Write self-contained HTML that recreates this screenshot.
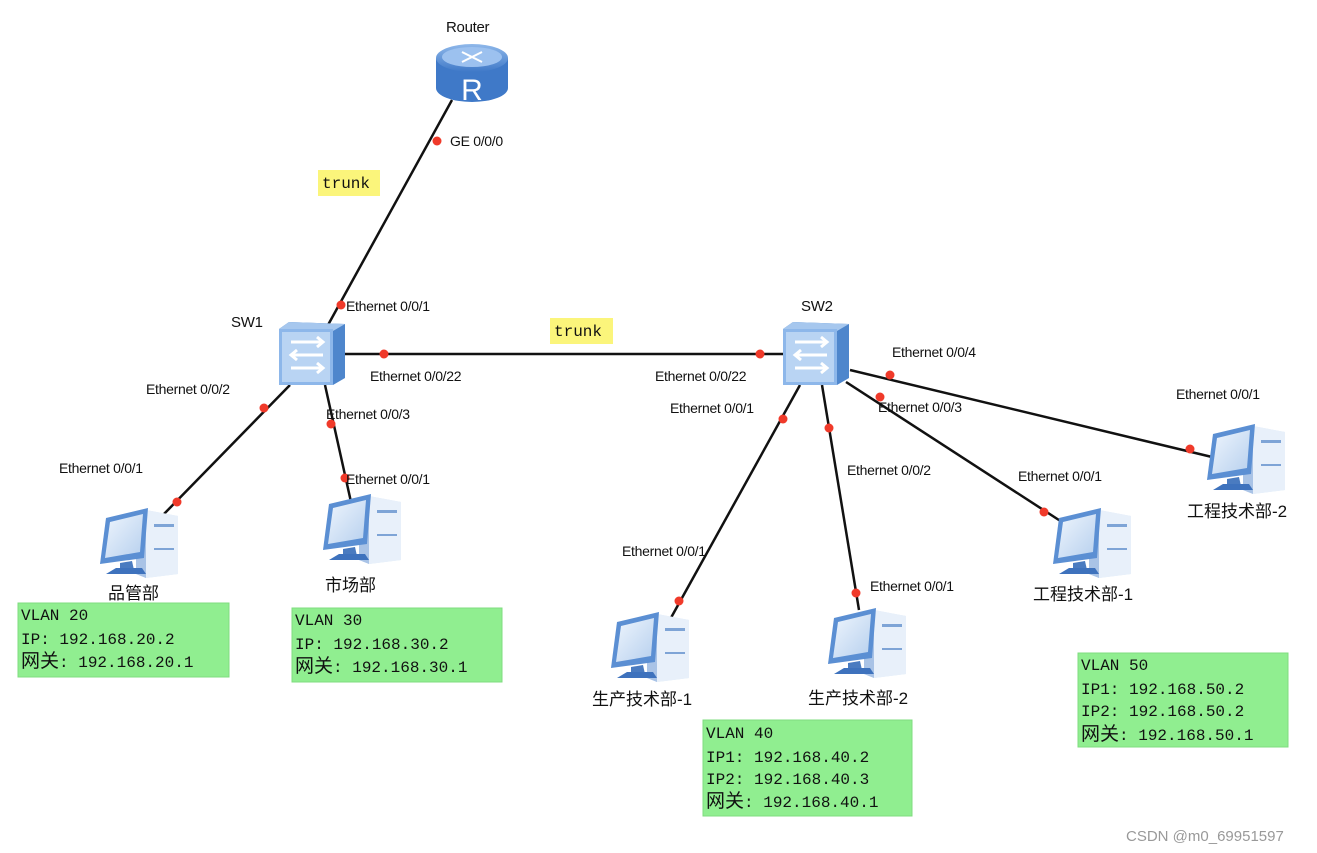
<!DOCTYPE html>
<html><head><meta charset="utf-8"><style>
html,body{margin:0;padding:0;background:#fff;}
svg{display:block;}
.l{font-family:"Liberation Sans",Arial,sans-serif;font-size:14px;fill:#111;letter-spacing:-0.3px;}
.c{font-family:"Liberation Sans","Noto Sans CJK SC",sans-serif;font-size:17px;fill:#111;}
.m{font-family:"Liberation Mono","Noto Sans CJK SC",monospace;font-size:16px;fill:#111;}
</style></head><body>
<svg width="1317" height="853" viewBox="0 0 1317 853" xmlns="http://www.w3.org/2000/svg">
<defs>
<linearGradient id="scr" x1="0" y1="0" x2="1" y2="1"><stop offset="0" stop-color="#eef5fd"/><stop offset="1" stop-color="#b7d0ee"/></linearGradient>
<linearGradient id="rt" x1="0" y1="0" x2="0" y2="1"><stop offset="0" stop-color="#8fb8ea"/><stop offset="1" stop-color="#3f79c8"/></linearGradient>
<g id="pc">
  <polygon points="40,6 50,2 82,8 82,66 50,70 40,66" fill="#dbe8f7"/>
  <polygon points="50,2 82,8 82,66 50,70" fill="#e8f0fa"/>
  <polygon points="40,6 50,2 50,70 40,66" fill="#a9c3e6"/>
  <rect x="58" y="16" width="20" height="3" fill="#7ea4d6"/>
  <rect x="58" y="40" width="20" height="2" fill="#7ea4d6"/>
  <polygon points="10,10 52,0 48,50 4,56" fill="#5b8fd3"/>
  <polygon points="14,14 47,6 44,44 9,50" fill="url(#scr)"/>
  <polygon points="24,55 36,53 38,62 24,63" fill="#4a7bc0"/>
  <polygon points="10,66 20,60 46,60 50,66" fill="#3e72bd"/>
</g>
<g id="sw">
  <polygon points="0,7 10,0 66,2 66,56 54,63 0,60" fill="#4e86cc"/>
  <polygon points="0,7 10,0 66,2 54,9" fill="#a6c7ee"/>
  <rect x="0" y="7" width="54" height="56" fill="#8db7ea"/>
  <rect x="3" y="10" width="48" height="50" fill="#b9d4f3"/>
  <g stroke="#fff" stroke-width="3" fill="none">
   <path d="M12,20 H44 M38,15 L44,20 L38,25"/>
   <path d="M44,33 H12 M18,28 L12,33 L18,38"/>
   <path d="M12,46 H44 M38,41 L44,46 L38,51"/>
  </g>
</g>
</defs>

<!-- links -->
<g stroke="#111" stroke-width="2.5" fill="none">
<line x1="452" y1="100" x2="328" y2="325"/>
<line x1="345" y1="354" x2="783" y2="354"/>
<line x1="290" y1="385" x2="163" y2="515"/>
<line x1="325" y1="385" x2="351" y2="502"/>
<line x1="800" y1="385" x2="667" y2="625"/>
<line x1="822" y1="385" x2="859" y2="610"/>
<line x1="846" y1="382" x2="1062" y2="522"/>
<line x1="850" y1="370" x2="1212" y2="457"/>
</g>
<g fill="#f03a2a">
<circle cx="437" cy="141" r="4.5"/><circle cx="341" cy="305" r="4.5"/>
<circle cx="384" cy="354" r="4.5"/><circle cx="760" cy="354" r="4.5"/>
<circle cx="264" cy="408" r="4.5"/><circle cx="177" cy="502" r="4.5"/>
<circle cx="331" cy="424" r="4.5"/><circle cx="345" cy="478" r="4.5"/>
<circle cx="783" cy="419" r="4.5"/><circle cx="679" cy="601" r="4.5"/>
<circle cx="829" cy="428" r="4.5"/><circle cx="856" cy="593" r="4.5"/>
<circle cx="880" cy="397" r="4.5"/><circle cx="1044" cy="512" r="4.5"/>
<circle cx="890" cy="375" r="4.5"/><circle cx="1190" cy="449" r="4.5"/>
</g>

<!-- router -->
<g>
 <path d="M436,58 V88 A36,14 0 0 0 508,88 V58 Z" fill="#3f79c8"/>
 <ellipse cx="472" cy="58" rx="36" ry="14" fill="url(#rt)"/>
 <ellipse cx="472" cy="57" rx="30" ry="10" fill="#9cc1ef"/>
 <g stroke="#fff" stroke-width="2" fill="none"><path d="M462,52 L482,62 M482,52 L462,62"/></g>
 <text x="472" y="100" text-anchor="middle" font-family="Liberation Sans,sans-serif" font-size="30" fill="#fff">R</text>
</g>
<text class="l" x="446" y="32" style="font-size:15px">Router</text>

<use href="#sw" x="279" y="322"/>
<use href="#sw" x="783" y="322"/>
<text class="l" x="231" y="327" style="font-size:15px">SW1</text>
<text class="l" x="801" y="311" style="font-size:15px">SW2</text>

<use href="#pc" x="96" y="508"/>
<use href="#pc" x="319" y="494"/>
<use href="#pc" x="607" y="612"/>
<use href="#pc" x="824" y="608"/>
<use href="#pc" x="1049" y="508"/>
<use href="#pc" x="1203" y="424"/>

<!-- trunk labels -->
<rect x="318" y="170" width="62" height="26" fill="#fbf57b"/>
<text class="m" x="322" y="188">trunk</text>
<rect x="550" y="318" width="63" height="26" fill="#fbf57b"/>
<text class="m" x="554" y="336">trunk</text>

<!-- port labels -->
<text class="l" x="450" y="146">GE 0/0/0</text>
<text class="l" x="346" y="311">Ethernet 0/0/1</text>
<text class="l" x="370" y="381">Ethernet 0/0/22</text>
<text class="l" x="146" y="394">Ethernet 0/0/2</text>
<text class="l" x="326" y="419">Ethernet 0/0/3</text>
<text class="l" x="59" y="473">Ethernet 0/0/1</text>
<text class="l" x="346" y="484">Ethernet 0/0/1</text>
<text class="l" x="655" y="381">Ethernet 0/0/22</text>
<text class="l" x="670" y="413">Ethernet 0/0/1</text>
<text class="l" x="892" y="357">Ethernet 0/0/4</text>
<text class="l" x="878" y="412">Ethernet 0/0/3</text>
<text class="l" x="1176" y="399">Ethernet 0/0/1</text>
<text class="l" x="847" y="475">Ethernet 0/0/2</text>
<text class="l" x="1018" y="481">Ethernet 0/0/1</text>
<text class="l" x="622" y="556">Ethernet 0/0/1</text>
<text class="l" x="870" y="591">Ethernet 0/0/1</text>

<!-- node names -->
<text class="c" x="108" y="599">品管部</text>
<text class="c" x="325" y="591">市场部</text>
<text class="c" x="592" y="705">生产技术部-1</text>
<text class="c" x="808" y="704">生产技术部-2</text>
<text class="c" x="1033" y="600">工程技术部-1</text>
<text class="c" x="1187" y="517">工程技术部-2</text>

<!-- info boxes -->
<rect x="18" y="603" width="211" height="74" fill="#90ee90" stroke="#7fdc7f"/>
<text class="m" x="21" y="620">VLAN 20</text>
<text class="m" x="21" y="644">IP: 192.168.20.2</text>
<text class="m" x="21" y="667"><tspan style="font-size:19px">网关</tspan>: 192.168.20.1</text>

<rect x="292" y="608" width="210" height="74" fill="#90ee90" stroke="#7fdc7f"/>
<text class="m" x="295" y="625">VLAN 30</text>
<text class="m" x="295" y="649">IP: 192.168.30.2</text>
<text class="m" x="295" y="672"><tspan style="font-size:19px">网关</tspan>: 192.168.30.1</text>

<rect x="703" y="720" width="209" height="96" fill="#90ee90" stroke="#7fdc7f"/>
<text class="m" x="706" y="738">VLAN 40</text>
<text class="m" x="706" y="762">IP1: 192.168.40.2</text>
<text class="m" x="706" y="784">IP2: 192.168.40.3</text>
<text class="m" x="706" y="807"><tspan style="font-size:19px">网关</tspan>: 192.168.40.1</text>

<rect x="1078" y="653" width="210" height="94" fill="#90ee90" stroke="#7fdc7f"/>
<text class="m" x="1081" y="670">VLAN 50</text>
<text class="m" x="1081" y="694">IP1: 192.168.50.2</text>
<text class="m" x="1081" y="716">IP2: 192.168.50.2</text>
<text class="m" x="1081" y="740"><tspan style="font-size:19px">网关</tspan>: 192.168.50.1</text>

<text x="1126" y="841" font-family="Liberation Sans,sans-serif" font-size="15" fill="#999">CSDN @m0_69951597</text>
</svg>
</body></html>
